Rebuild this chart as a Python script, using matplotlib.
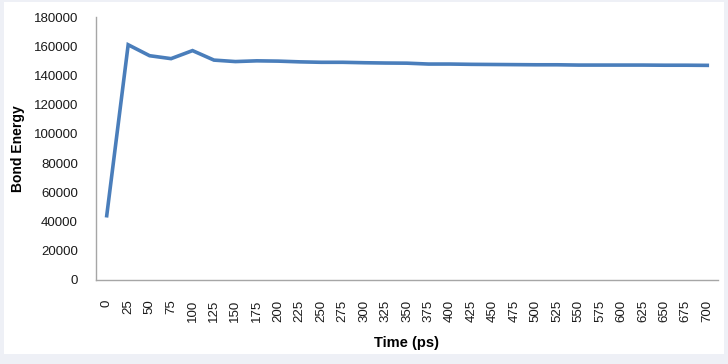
import matplotlib
matplotlib.use("Agg")
import matplotlib.pyplot as plt
from matplotlib.patches import Rectangle

# time points (ps) and bond energy
time_ps = [0, 25, 50, 75, 100, 125, 150, 175, 200, 225, 250, 275, 300, 325,
           350, 375, 400, 425, 450, 475, 500, 525, 550, 575, 600, 625, 650,
           675, 700]
bond_energy = [44000, 161000, 153500, 151500, 157000, 150500, 149500, 150000,
               149800, 149300, 149000, 149000, 148700, 148500, 148400, 147800,
               147800, 147600, 147500, 147400, 147300, 147300, 147100, 147100,
               147100, 147100, 147000, 147000, 146900]
y_ticks = [0, 20000, 40000, 60000, 80000, 100000, 120000, 140000, 160000, 180000]

plt.rcParams['font.family'] = ['Liberation Sans', 'DejaVu Sans']

fig = plt.figure(figsize=(7.28, 3.64), dpi=100)
fig.patch.set_facecolor('#eef0f6')
# white chart area inside the light frame, kept behind the axes
fig.add_artist(Rectangle((4 / 728, 10 / 364), 720 / 728, 352 / 364,
                         transform=fig.transFigure, facecolor='white',
                         edgecolor='none', zorder=-10))

ax = fig.add_axes([96 / 728, 1 - 280 / 364, 622 / 728, 263 / 364])
ax.set_facecolor('none')

x = list(range(len(time_ps)))
ax.plot(x, bond_energy, color='#4a7ebb', linewidth=2.6, solid_joinstyle='miter')

ax.set_xlim(-0.5, len(time_ps) - 0.5)
ax.set_ylim(0, 180000)
ax.set_yticks(y_ticks)
ax.set_yticklabels([str(v) for v in y_ticks], fontsize=9.5, color='#1a1a1a')
ax.set_xticks(x)
ax.set_xticklabels([str(t) for t in time_ps], rotation=90, fontsize=9.5,
                   color='#1a1a1a')
ax.tick_params(axis='y', length=0, pad=13)
ax.tick_params(axis='x', length=0, pad=14)

for side in ['top', 'right']:
    ax.spines[side].set_visible(False)
for side in ['left', 'bottom']:
    ax.spines[side].set_color('#a6a6a6')
    ax.spines[side].set_linewidth(1)

ax.set_ylabel('Bond Energy', fontsize=10, fontweight='bold', labelpad=6)
ax.set_xlabel('Time (ps)', fontsize=10.5, fontweight='bold', labelpad=10)

fig.savefig('out.png', dpi=100, facecolor=fig.get_facecolor())
